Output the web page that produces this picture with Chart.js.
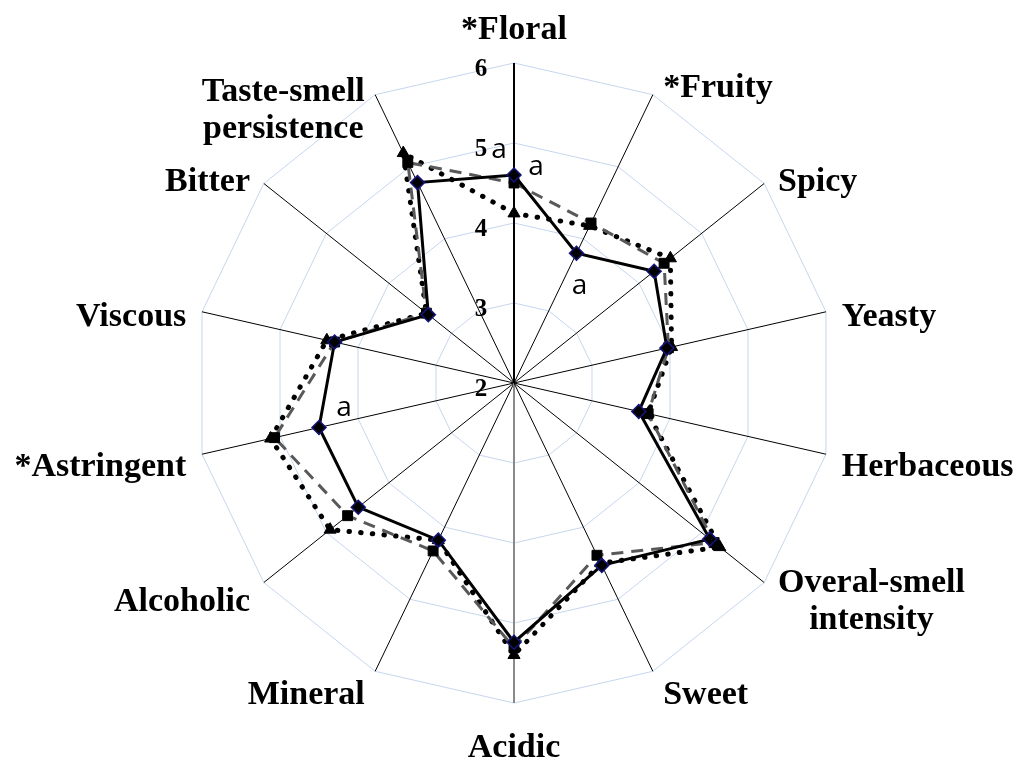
<!DOCTYPE html>
<html>
<head>
<meta charset="utf-8">
<script src="https://cdn.jsdelivr.net/npm/chart.js@4/dist/chart.umd.min.js"></script>
<style>
  body { margin: 0; background: #fff; }
  #wrap { width: 1025px; height: 764px; }
</style>
</head>
<body>
<div id="wrap"><canvas id="myChart"></canvas></div>
<script>
// sensory attributes, clockwise from the top
var attributes = [['*Floral'], ['*Fruity'], ['Spicy'], ['Yeasty'], ['Herbaceous'], ['Overal-smell', 'intensity'],
  ['Sweet'], ['Acidic'], ['Mineral'], ['Alcoholic'], ['*Astringent'], ['Viscous'], ['Bitter'], ['Taste-smell', 'persistence']];

// mean scores
var wineA = [4.6, 3.8, 4.24, 3.96, 3.6, 5.13, 4.53, 5.24, 4.18, 4.49, 4.5, 4.3, 3.37, 4.78]; // solid, diamonds
var wineB = [4.5, 4.22, 4.4, 3.98, 3.72, 5.2, 4.39, 5.31, 4.33, 4.66, 5.07, 4.3, 3.4, 5.06]; // dashed, squares
var wineC = [4.12, 4.18, 4.5, 4.02, 3.72, 5.29, 4.5, 5.4, 4.18, 4.94, 5.12, 4.4, 3.4, 5.19]; // dotted, triangles

// significance letters
var lettersA = ['a', 'a', '', '', '', '', '', '', '', '', 'a', '', '', ''];
var lettersB = ['a', '', '', '', '', '', '', '', '', '', '', '', '', ''];

var tickValues = [2, 3, 4, 5, 6];

// offsets of the letters from their points
var letterOffsets = {
  '0-0': [22, -8], '0-1': [3, 33], '0-10': [25, -19],
  '1-0': [-15, -33]
};

var labelPlugin = {
  id: 'sensoryLabels',
  afterDraw: function(chart) {
    var ctx = chart.ctx;
    var scale = chart.scales.r;
    var R = scale.drawingArea;
    ctx.save();
    ctx.fillStyle = '#000';
    ctx.textBaseline = 'middle';
    ctx.textAlign = 'center';

    // value axis tick labels, left of the vertical axis
    ctx.font = 'bold 25px "Liberation Serif"';
    tickValues.forEach(function(v) {
      var y = scale.yCenter - scale.getDistanceFromCenterForValue(v);
      ctx.fillText(String(v), scale.xCenter - 33, y + 7);
    });

    // attribute names
    ctx.font = 'bold 34px "Liberation Serif"';
    var lh = 37;
    attributes.forEach(function(lines, i) {
      var p = scale.getPointPosition(i, R);
      var a = i * 2 * Math.PI / attributes.length;
      var s = Math.sin(a), c = Math.cos(a);
      var w = Math.max.apply(null, lines.map(function(t) { return ctx.measureText(t).width; }));
      var cx, cy;
      if (Math.abs(s) < 0.01) {
        cx = p.x;
        cy = p.y + (c > 0 ? -33 : 45);
      } else {
        var gx = 6 + 10 * Math.abs(s);
        cx = p.x + (s > 0 ? 1 : -1) * (gx + w / 2);
        cy = p.y + 9 - 17 * c;
        if (lines.length > 1 && c > 0) cy += (lines.length - 1) * lh / 2 + 4;
      }
      lines.forEach(function(t, k) {
        ctx.fillText(t, cx, cy + (k - (lines.length - 1) / 2) * lh);
      });
    });

    // letters next to points
    ctx.font = '28px "Open Sans"';
    [lettersA, lettersB].forEach(function(letters, d) {
      var pts = chart.getDatasetMeta(d).data;
      letters.forEach(function(t, i) {
        if (!t) return;
        var off = letterOffsets[d + '-' + i] || [15, 0];
        ctx.fillText(t, pts[i].x + off[0], pts[i].y + off[1]);
      });
    });
    ctx.restore();
  }
};

var ctx = document.getElementById('myChart').getContext('2d');

var myChart = new Chart(ctx, {
  type: 'radar',
  data: {
    labels: attributes,
    datasets: [{
      label: 'A',
      data: wineA,
      fill: false,
      borderColor: '#000',
      borderWidth: 3,
      pointStyle: 'rectRot',
      pointRadius: 7,
      pointBackgroundColor: '#000',
      pointBorderColor: '#14147a',
      pointBorderWidth: 1.5
    }, {
      label: 'B',
      data: wineB,
      fill: false,
      borderColor: '#595959',
      borderWidth: 3,
      borderDash: [12, 8],
      pointStyle: 'rect',
      pointRadius: 7,
      pointBackgroundColor: '#000',
      pointBorderColor: '#000',
      pointBorderWidth: 1
    }, {
      label: 'C',
      data: wineC,
      fill: false,
      borderColor: '#000',
      borderWidth: 5,
      borderDash: [0.5, 11.2],
      borderCapStyle: 'round',
      pointStyle: 'triangle',
      pointRadius: 7,
      pointBackgroundColor: '#000',
      pointBorderColor: '#000',
      pointBorderWidth: 1
    }]
  },
  options: {
    responsive: true,
    maintainAspectRatio: false,
    animation: false,
    layout: { padding: { left: 3, right: 0, top: 63, bottom: 61 } },
    plugins: { legend: { display: false }, tooltip: { enabled: false } },
    scales: {
      r: {
        min: 2,
        max: 6,
        ticks: { display: false, stepSize: 1 },
        grid: { color: '#c6d6ee', lineWidth: 1 },
        angleLines: {
          color: function(c) { return c.index === 7 ? '#8a8a8a' : '#000'; },
          lineWidth: function(c) { return (c.index === 0 || c.index === 7) ? 2 : 1; }
        },
        pointLabels: { display: false }
      }
    }
  },
  plugins: [labelPlugin]
});
</script>
</body>
</html>
